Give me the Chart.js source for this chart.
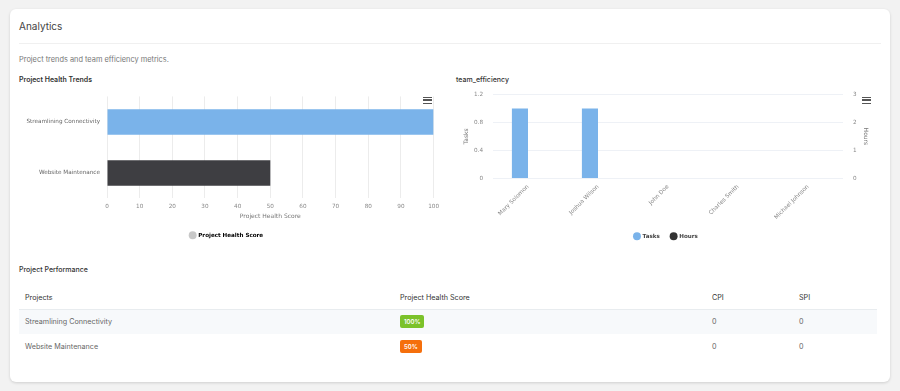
<!DOCTYPE html>
<html>
<head>
<meta charset="utf-8">
<script src="https://cdn.jsdelivr.net/npm/chart.js@4.4.1/dist/chart.umd.min.js"></script>
<style>
  body { margin: 0; background: #f2f2f2; font-family: Inter, "Noto Sans", sans-serif; }
  .card { position: absolute; left: 10px; top: 9px; width: 880px; height: 373px; background: #fff;
          border-radius: 6px; box-shadow: 0 1px 3px rgba(0,0,0,0.15); }
  .abs { position: absolute; }
  #title { left: 9px; top: 11px; font-size: 10px; color: #444; }
  #divider { left: 9px; top: 34px; width: 862px; height: 1px; background: #f0f0f0; }
  #sub { left: 9px; top: 46px; font-size: 7.4px; color: #777; }
  .ctitle { font-size: 7px; font-weight: 600; color: #333; }
  .burger { width: 9px; height: 7px; border-top: 1.5px solid #555; border-bottom: 1.5px solid #555; box-sizing: border-box; }
  .burger::after { content: ""; display: block; height: 1.5px; background: #555; margin-top: 1.25px; }
  table { position: absolute; left: 9px; top: 278px; width: 858px; border-collapse: collapse; table-layout: fixed; font-size: 7.2px; color: #666; }
  th { text-align: left; font-weight: 400; color: #333; height: 22px; padding: 0 0 0 6px; border-bottom: 1px solid #e8ecef; box-sizing: border-box; }
  td { height: 25px; padding: 0 0 0 6px; box-sizing: border-box; color: #666; }
  tr.odd td { background: #f7f9fb; }
  .badge { display: inline-block; color: #fff; font-size: 6px; font-weight: 600; padding: 3px 4px; border-radius: 2px; }
</style>
</head>
<body>
<div class="card">
  <div class="abs" id="title">Analytics</div>
  <div class="abs" id="divider"></div>
  <div class="abs" id="sub">Project trends and team efficiency metrics.</div>
  <div class="abs ctitle" style="left:9px;top:66px;">Project Health Trends</div>
  <div class="abs ctitle" style="left:446px;top:66px;font-weight:500;">team_efficiency</div>
  <div class="abs ctitle" style="left:9px;top:256px;font-weight:500;">Project Performance</div>
  <div class="abs burger" style="left:413px;top:88px;"></div>
  <div class="abs burger" style="left:852px;top:88px;"></div>
  <table id="perf"></table>
</div>
<canvas id="healthCanvas" class="abs" style="left:19px;top:86px;width:425px;height:162px;"></canvas>
<canvas id="teamCanvas" class="abs" style="left:450px;top:81px;width:430px;height:168px;"></canvas>
<script>
// donnees du graphe et du tableau
const projects = ['Streamlining Connectivity', 'Website Maintenance'];
const healthScores = [100, 50];
const cpi = [0, 0];
const spi = [0, 0];
const members = ['Mary Solomon', 'Joshua Wilson', 'John Doe', 'Charles Smith', 'Michael Johnson'];
const tasks = [1, 1, 0, 0, 0];
const hours = [0, 0, 0, 0, 0];

const tickFont = { family: 'DejaVu Sans', size: 5.7 };
const tickColor = '#888';
const legendFont = { family: 'DejaVu Sans', size: 5.6, weight: 'bold' };

// tableau des performances
const perf = document.getElementById('perf');
let html = '<tr><th style="width:375px">Projects</th><th style="width:312px">Project Health Score</th><th style="width:87px">CPI</th><th>SPI</th></tr>';
projects.forEach((p, i) => {
    const col = healthScores[i] >= 75 ? '#7bc22a' : '#f56f0c';
    html += '<tr class="' + (i % 2 == 0 ? 'odd' : '') + '"><td>' + p + '</td><td><span class="badge" style="background:' + col + '">' + healthScores[i] + '%</span></td><td>' + cpi[i] + '</td><td>' + spi[i] + '</td></tr>';
});
perf.innerHTML = html;

new Chart(document.getElementById('healthCanvas'), {
    type: 'bar',
    data: {
        labels: projects,
        datasets: [{
            label: 'Project Health Score',
            data: healthScores,
            backgroundColor: ['#7ab3ea', '#3e3e42'],
            barPercentage: 0.5,
            categoryPercentage: 1
        }]
    },
    options: {
        indexAxis: 'y',
        responsive: false,
        animation: false,
        layout: { padding: { top: 5, right: 10 } },
        scales: {
            x: {
                min: 0, max: 100,
                ticks: { stepSize: 10, font: tickFont, color: tickColor, padding: 5 },
                grid: { color: '#ececec', drawTicks: false },
                border: { display: false },
                title: { display: true, text: 'Project Health Score', font: { family: 'DejaVu Sans', size: 6 }, color: '#777', padding: { top: 0, bottom: 4 } },
                afterFit: s => { s.height = 26; }
            },
            y: {
                ticks: { font: tickFont, color: '#666', padding: 7 },
                grid: { display: false, drawTicks: false },
                border: { display: false },
                afterFit: s => { s.width = 88; }
            }
        },
        plugins: {
            tooltip: { enabled: false },
            legend: {
                position: 'bottom',
                labels: {
                    usePointStyle: true, boxWidth: 7, boxHeight: 7, padding: 8,
                    font: legendFont, color: '#444',
                    generateLabels: () => [{ text: 'Project Health Score', fillStyle: '#c8c8c8', strokeStyle: '#c8c8c8', lineWidth: 0, pointStyle: 'circle' }]
                }
            }
        }
    }
});

new Chart(document.getElementById('teamCanvas'), {
    type: 'bar',
    data: {
        labels: members,
        datasets: [
            { label: 'Tasks', data: tasks, backgroundColor: '#7ab3ea', yAxisID: 'y', categoryPercentage: 0.46, barPercentage: 1 },
            { label: 'Hours', data: hours, backgroundColor: '#333333', yAxisID: 'y2', categoryPercentage: 0.46, barPercentage: 1 }
        ]
    },
    options: {
        responsive: false,
        animation: false,
        layout: { padding: { top: 6, left: 13, right: 11 } },
        scales: {
            x: {
                ticks: { font: tickFont, color: tickColor, minRotation: 45, maxRotation: 45, padding: 5 },
                grid: { display: false, drawTicks: false },
                border: { display: false },
                afterFit: s => { s.height = 44; }
            },
            y: {
                min: 0, max: 1.2,
                ticks: { stepSize: 0.4, font: tickFont, color: tickColor, padding: 10 },
                grid: { color: '#eef1f6', drawTicks: false },
                border: { display: false },
                title: { display: true, text: 'Tasks', font: { family: 'DejaVu Sans', size: 6 }, color: '#777', padding: 0 },
                afterFit: s => { s.width = 30; }
            },
            y2: {
                position: 'right',
                min: 0, max: 3,
                ticks: { stepSize: 1, font: tickFont, color: tickColor, padding: 10 },
                grid: { display: false, drawTicks: false },
                border: { display: false },
                title: { display: true, text: 'Hours', font: { family: 'DejaVu Sans', size: 6 }, color: '#777', padding: 0 },
                afterFit: s => { s.width = 26; }
            }
        },
        plugins: {
            tooltip: { enabled: false },
            legend: {
                position: 'bottom',
                labels: {
                    usePointStyle: true, pointStyle: 'circle', boxWidth: 7, boxHeight: 7, padding: 11,
                    font: legendFont, color: '#444'
                }
            }
        }
    }
});
</script>
</body>
</html>
